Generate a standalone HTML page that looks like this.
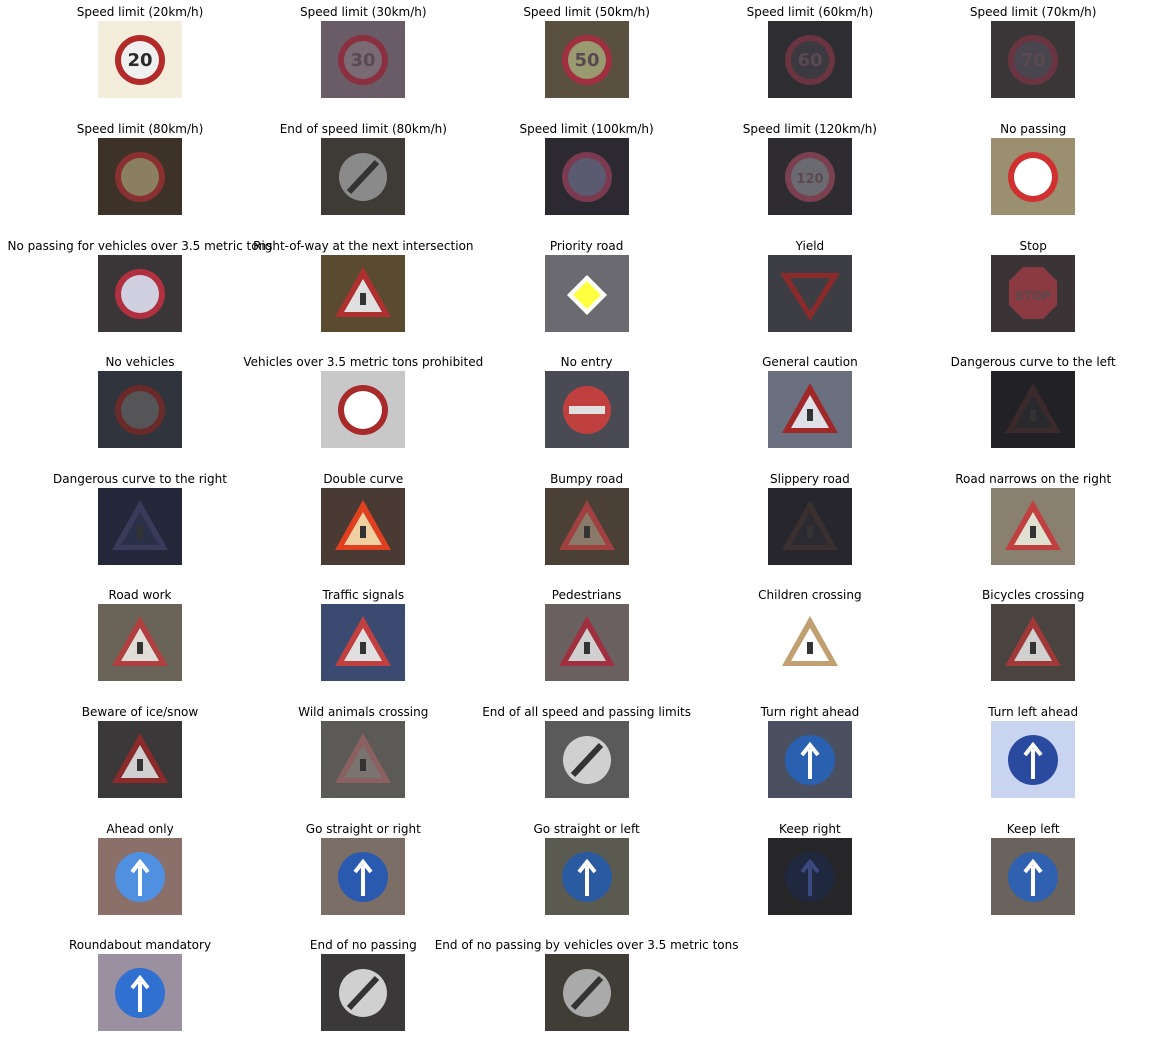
<!DOCTYPE html>
<html><head><meta charset="utf-8">
<style>
html,body{margin:0;padding:0;background:#fff;}
#fig{position:relative;width:1159px;height:1056px;overflow:hidden;font-family:"DejaVu Sans","Liberation Sans",sans-serif;}
.t{position:absolute;font-size:12px;color:#000;white-space:nowrap;transform:translateX(-50%);line-height:14px;}
.im{position:absolute;width:84px;height:77px;}
</style></head>
<body>
<div id="fig"></div>
<script>
const titles=["Speed limit (20km/h)","Speed limit (30km/h)","Speed limit (50km/h)","Speed limit (60km/h)","Speed limit (70km/h)",
"Speed limit (80km/h)","End of speed limit (80km/h)","Speed limit (100km/h)","Speed limit (120km/h)","No passing",
"No passing for vehicles over 3.5 metric tons","Right-of-way at the next intersection","Priority road","Yield","Stop",
"No vehicles","Vehicles over 3.5 metric tons prohibited","No entry","General caution","Dangerous curve to the left",
"Dangerous curve to the right","Double curve","Bumpy road","Slippery road","Road narrows on the right",
"Road work","Traffic signals","Pedestrians","Children crossing","Bicycles crossing",
"Beware of ice/snow","Wild animals crossing","End of all speed and passing limits","Turn right ahead","Turn left ahead",
"Ahead only","Go straight or right","Go straight or left","Keep right","Keep left",
"Roundabout mandatory","End of no passing","End of no passing by vehicles over 3.5 metric tons"];
const kinds=["circ","circ","circ","circ","circ","circ","end","circ","circ","circ","circ","tri","dia","yield","oct","circ","circ","noent","tri","tri","tri","tri","tri","tri","tri","tri","tri","tri","tri","tri","tri","tri","end","blue","blue","blue","blue","blue","blue","blue","blue","end","end"];
const bgs=["#f3eedc","#6a5c66","#5a5040","#2e2e32","#3a3638","#3c3228","#3e3a36","#2c2a30","#2e2c30","#9a9070","#3a3638","#5a4a30","#6a6a70","#3c3e44","#3a3436","#30343c","#c8c8c8","#4a4a54","#6a7080","#222226","#24283a","#4a3a34","#4a4036","#26262c","#8a8070","#6a6458","#3a4a70","#6a6060","#ffffff","#4a4440","#3a3838","#5c5a56","#5a5a5a","#4a5060","#c8d4f0","#8a7068","#7a6e66","#5a5a50","#262628","#6a625c","#9a90a0","#3a3838","#403c36"];
const rims=["#b22a2a","#8a3040","#a03040","#6a3440","#6a3440","#8a3030","#c0c0c0","#7a3a50","#7a4050","#d03030","#b03040","#b03030","#ffff40","#8a2a2a","#8a3a40","#6a2a2a","#a82a2a","#c04040","#a02828","#3a2a2c","#3a3a5a","#e04020","#a04040","#3a3030","#c04040","#b04040","#c04040","#a03040","#c0a070","#a03838","#8a2a2a","#8a6060","#e0e0e0","#2a60b0","#2a4aa0","#5090e0","#2a5ab0","#2a5aa0","#202840","#3060b0","#3070d0","#b0b0b0","#8a8a80"];
const inners=["#f0f0f0","#7a6a74","#9a9a70","#3a3a40","#4a4650","#8a8060","#8a8a8a","#5a5a70","#6a6a70","#ffffff","#d0d0e0","#e0e0e0","#ffff40","#3c3e44","#7a4a50","#555558","#ffffff","#e0e0e0","#e0e0e8","#2a2a2e","#2a3048","#f0d0a0","#8a7a6a","#2a2a30","#e0e0d0","#e0dcd8","#e0e0e0","#d0d0d0","#ffffff","#d0d0d0","#d0d0d0","#7a7470","#d0d0d0","#ffffff","#ffffff","#ffffff","#ffffff","#ffffff","#3a4a80","#ffffff","#ffffff","#d0d0d0","#aaaaaa"];
const labels=["20","30","50","60","70","","","","120","","","","","","STOP","","","","","","","","","","","","","","","","","","","","","","","","","","","",""];
const NS="http://www.w3.org/2000/svg";
const fig=document.getElementById('fig');
function colX(c){return 140+c*223.3;}
function rowY(r){return 21.3+r*116.6;}
function mk(tag,attrs,parent){const e=document.createElementNS(NS,tag);for(const k in attrs)e.setAttribute(k,attrs[k]);parent.appendChild(e);return e;}
titles.forEach((tt,i)=>{
  const c=i%5,r=Math.floor(i/5);
  const cx=colX(c),top=rowY(r);
  const d=document.createElement('div');
  d.className='t';d.textContent=tt;
  d.style.left=cx+'px';d.style.top=(top-16)+'px';
  
  
  fig.appendChild(d);
  const s=document.createElementNS(NS,'svg');
  s.setAttribute('class','im');
  s.setAttribute('viewBox','0 0 84 77');
  s.style.left=(cx-42)+'px';s.style.top=top+'px';
  
  
  fig.appendChild(s);
  mk('rect',{x:0,y:0,width:84,height:77,fill:bgs[i]},s);
  const k=kinds[i],rim=rims[i],inn=inners[i];
  if(k==='circ'){mk('circle',{cx:42,cy:39,r:25,fill:rim},s);mk('circle',{cx:42,cy:39,r:19,fill:inn},s);}
  else if(k==='end'){mk('circle',{cx:42,cy:39,r:24,fill:inn},s);mk('line',{x1:28,y1:54,x2:56,y2:24,stroke:'#333',"stroke-width":6},s);}
  else if(k==='tri'){mk('polygon',{points:'42,12 70,62 14,62',fill:rim},s);mk('polygon',{points:'42,24 61,57 23,57',fill:inn},s);mk('rect',{x:39,y:38,width:6,height:12,fill:'#333'},s);}
  else if(k==='yield'){mk('polygon',{points:'12,18 72,18 42,66',fill:rim},s);mk('polygon',{points:'22,23 62,23 42,56',fill:inn},s);}
  else if(k==='oct'){mk('polygon',{points:'32,12 52,12 66,26 66,50 52,64 32,64 18,50 18,26',fill:rim},s);}
  else if(k==='dia'){mk('polygon',{points:'42,20 62,40 42,60 22,40',fill:'#fff'},s);mk('polygon',{points:'42,26 56,40 42,54 28,40',fill:inn},s);}
  else if(k==='noent'){mk('circle',{cx:42,cy:39,r:24,fill:rim},s);mk('rect',{x:24,y:35,width:36,height:8,fill:inn},s);}
  else if(k==='blue'){mk('circle',{cx:42,cy:39,r:25,fill:rim},s);mk('path',{d:'M42 58 L42 28 M34 34 L42 24 L50 34',stroke:inn,"stroke-width":4,fill:'none'},s);}
  if(labels[i]){const t=mk('text',{x:42,y:45,"text-anchor":"middle","font-size":labels[i]==='STOP'?12:(labels[i].length>2?13:18),"font-family":"DejaVu Sans, sans-serif","font-weight":"bold",fill:i===0?'#2a2a2a':'#5a4a50'},s);t.textContent=labels[i];}
});
</script>
</body></html>
